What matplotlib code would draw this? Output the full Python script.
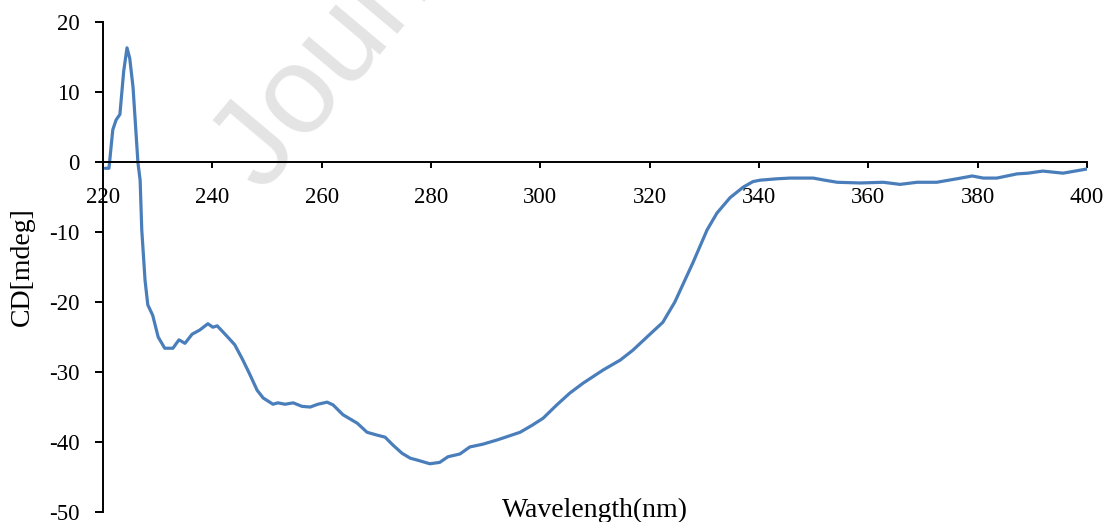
'''
CD spectrum of the sample, wavelength scan 220-400 nm.
'''
import matplotlib
matplotlib.use('Agg')
import matplotlib.pyplot as plt
import numpy as np

# values
wavelength = [220.4, 221.1, 221.8, 222.4, 223.1, 223.8, 224.4, 224.9, 225.5, 226.4,
              226.8, 227.1, 227.7, 228.2, 229.1, 230.1, 231.3, 232.8, 233.9, 235.0,
              236.3, 237.7, 239.2, 240.1, 240.9, 242.7, 244.1, 245.6, 246.9, 248.2,
              249.3, 251.1, 252.0, 253.3, 254.8, 256.4, 257.9, 259.3, 261.0, 262.1,
              263.9, 266.5, 268.3, 270.1, 271.6, 273.0, 274.7, 276.2, 277.6, 279.8,
              281.6, 283.1, 285.3, 287.1, 289.5, 292.1, 294.4, 296.3, 298.5, 300.5,
              303.0, 305.4, 307.8, 311.5, 314.6, 316.9, 319.5, 322.4, 324.6, 327.9,
              330.5, 332.3, 334.7, 337.1, 338.9, 340.2, 343.3, 345.7, 349.9, 352.0,
              354.3, 358.5, 362.7, 365.8, 368.9, 372.5, 376.2, 379.0, 381.0, 383.5,
              387.2, 389.2, 391.9, 395.6, 400.0]
cd_mdeg = [-0.9, -0.9, 4.6, 6.0, 6.8, 13.0, 16.3, 14.8, 10.7, -0.1,
           -2.6, -9.7, -16.9, -20.4, -21.9, -25.0, -26.6, -26.6, -25.4, -25.9,
           -24.6, -24.0, -23.1, -23.6, -23.4, -24.9, -26.1, -28.3, -30.4, -32.6,
           -33.7, -34.6, -34.4, -34.6, -34.4, -34.9, -35.0, -34.6, -34.3, -34.7,
           -36.1, -37.3, -38.6, -39.0, -39.3, -40.4, -41.6, -42.3, -42.6, -43.1,
           -42.9, -42.1, -41.7, -40.7, -40.3, -39.7, -39.1, -38.6, -37.6, -36.6,
           -34.7, -33.0, -31.6, -29.7, -28.3, -26.9, -25.0, -22.9, -20.0, -14.4,
           -9.7, -7.3, -5.1, -3.6, -2.8, -2.6, -2.4, -2.3, -2.3, -2.6,
           -2.9, -3.0, -2.9, -3.2, -2.9, -2.9, -2.4, -2.0, -2.3, -2.3,
           -1.7, -1.6, -1.3, -1.6, -1.0]
x_ticks = np.arange(220, 401, 20)
y_ticks = np.arange(-50, 21, 10)


def main():
    plt.rcParams['font.family'] = ['Liberation Serif', 'DejaVu Serif']
    plt.rcParams['axes.unicode_minus'] = False

    fig = plt.figure(figsize=(11.07, 5.22), dpi=100)
    ax = fig.add_axes([0.093, 0.019, 0.889, 0.939])

    # watermark sits behind everything else
    ax.text(0.238, 0.628, 'Journal Pre-proof', transform=fig.transFigure,
            rotation=50, rotation_mode='anchor', ha='left', va='baseline',
            fontsize=90, family='Liberation Sans', color='#e4e4e4',
            zorder=0, clip_on=False)

    ax.plot(wavelength, cd_mdeg, color='#4a7ebb', lw=2.3, zorder=2,
            solid_capstyle='round', solid_joinstyle='round')

    ax.set_xlim(220, 400)
    ax.set_ylim(-50, 20)
    ax.set_xticks(x_ticks)
    ax.set_yticks(y_ticks)

    # x axis crosses at zero, excel style
    ax.spines['bottom'].set_position(('data', 0))
    ax.spines['top'].set_visible(False)
    ax.spines['right'].set_visible(False)
    for s in ['bottom', 'left']:
        ax.spines[s].set_linewidth(1.4)
        ax.spines[s].set_zorder(3)

    ax.tick_params(axis='x', direction='out', length=4.5, width=1.4,
                   pad=13.5, labelsize=16.5)
    ax.tick_params(axis='y', direction='out', length=5.8, width=1.4,
                   pad=11, labelsize=16.5)

    ax.set_xlabel('Wavelength(nm)', fontsize=20)
    ax.xaxis.set_label_coords(0.5, -0.0102)
    ax.xaxis.label.set_verticalalignment('baseline')
    ax.set_ylabel('CD[mdeg]', fontsize=20)
    ax.yaxis.set_label_coords(-0.0823, 0.5)
    ax.yaxis.label.set_verticalalignment('center')

    plt.savefig('out.png', dpi=100)


if __name__ == '__main__':
    main()
